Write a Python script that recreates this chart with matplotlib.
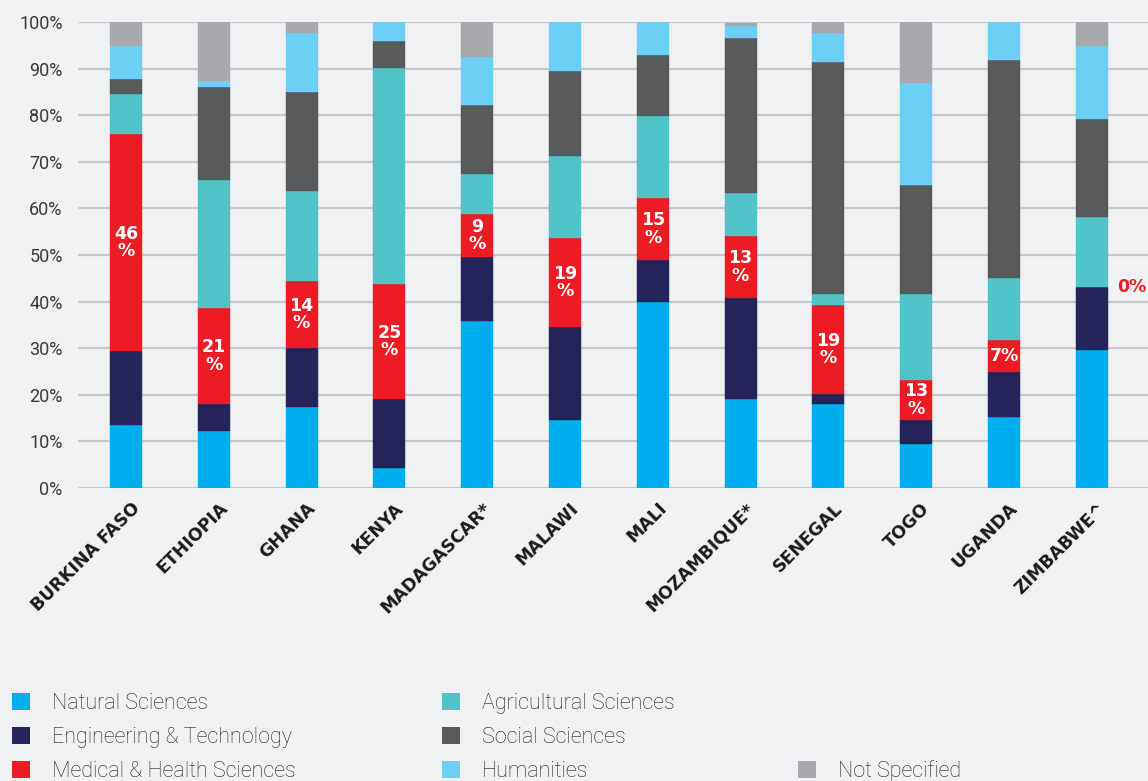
import numpy as np
import matplotlib
matplotlib.use("Agg")
import matplotlib.pyplot as plt
import matplotlib.transforms as mtransforms
from matplotlib.patches import Patch

# Data (share of researchers by field, %)
countries = ["BURKINA FASO", "ETHIOPIA", "GHANA", "KENYA", "MADAGASCAR*", "MALAWI",
             "MALI", "MOZAMBIQUE*", "SENEGAL", "TOGO", "UGANDA", "ZIMBABWE^"]
natural = [13.5, 12.2, 17.4, 4.3, 35.8, 14.6, 39.9, 19.1, 18.0, 9.4, 15.2, 29.6]
engineering = [15.9, 5.8, 12.6, 14.8, 13.8, 19.9, 9.0, 21.7, 2.2, 5.2, 9.7, 13.5]
medical = [46.6, 20.6, 14.4, 24.7, 9.2, 19.1, 13.3, 13.3, 19.1, 8.6, 6.9, 0.0]
agricultural = [8.5, 27.5, 19.3, 46.3, 8.6, 17.6, 17.6, 9.2, 2.3, 18.4, 13.3, 15.1]
social = [3.3, 20.0, 21.3, 5.8, 14.8, 18.3, 13.1, 33.2, 49.8, 23.4, 46.7, 21.0]
humanities = [7.0, 1.3, 12.6, 4.1, 10.3, 10.5, 7.1, 2.6, 6.2, 21.9, 8.2, 15.6]
not_specified = [5.2, 12.7, 2.4, 0.0, 7.5, 0.0, 0.0, 0.6, 2.4, 13.1, 0.0, 5.2]
medical_labels = ["46\n%", "21\n%", "14\n%", "25\n%", "9\n%", "19\n%", "15\n%",
                  "13\n%", "19\n%", "13\n%", "7%", "0%"]

series = [
    ("Natural Sciences", natural, "#00AEEF"),
    ("Engineering & Technology", engineering, "#24235A"),
    ("Medical & Health Sciences", medical, "#ED1C24"),
    ("Agricultural Sciences", agricultural, "#50C3C9"),
    ("Social Sciences", social, "#58595B"),
    ("Humanities", humanities, "#6CCFF6"),
    ("Not Specified", not_specified, "#A7A9AC"),
]

BG = "#F0F1F3"
W, H = 1148, 781

fig = plt.figure(figsize=(W / 100, H / 100), dpi=100, facecolor=BG)
ax = fig.add_axes([78 / W, 1 - 488 / H, 1 - 78 / W, (488 - 22) / H])
ax.set_facecolor(BG)

x = np.arange(len(countries))
bottom = np.zeros(len(countries))
for name, vals, color in series:
    vals = np.array(vals)
    ax.bar(x, vals, bottom=bottom, width=0.365, color=color, label=name,
           zorder=3, edgecolor=color, linewidth=0.3)
    if name.startswith("Medical"):
        med_bottom = bottom.copy()
    bottom += vals

# Labels on the medical segments
for i, lab in enumerate(medical_labels):
    if medical[i] > 0:
        ax.text(x[i], med_bottom[i] + medical[i] / 2, lab, ha="center", va="center",
                color="white", fontsize=12.5, fontweight="bold", linespacing=0.95,
                zorder=4)
    else:
        ax.text(x[i] + 0.46, med_bottom[i], lab, ha="center", va="center",
                color="#ED1C24", fontsize=12.5, fontweight="bold", zorder=4)

ax.set_xlim(-0.547, 11.64)
ax.set_ylim(0, 100)
ax.set_yticks(np.arange(0, 101, 10))
ax.set_yticklabels([f"{v}%" for v in range(0, 101, 10)])
ax.yaxis.grid(True, color="#C8C9CB", linewidth=1.6, zorder=0)
ax.set_axisbelow(True)
for s in ax.spines.values():
    s.set_visible(False)
ax.tick_params(axis="y", length=0, pad=11, labelsize=13, labelcolor="#3A3A3A")
ax.tick_params(axis="x", length=0, pad=4)
for t in ax.get_yticklabels():
    t.set_fontfamily("Roboto")

ax.set_xticks(x)
ax.set_xticklabels(countries, rotation=45, ha="right", va="center",
                   rotation_mode="anchor", fontsize=12.5, fontweight="bold",
                   color="#1A1A1A")
offset = mtransforms.ScaledTranslation(0.11, -0.12, fig.dpi_scale_trans)
for t in ax.get_xticklabels():
    t.set_transform(t.get_transform() + offset)

# Legend in three columns, placed by hand
handles = {name: Patch(facecolor=color, edgecolor="none") for name, _, color in series}
cols = [
    (12, 693, ["Natural Sciences", "Engineering & Technology", "Medical & Health Sciences"]),
    (442, 693, ["Agricultural Sciences", "Social Sciences", "Humanities"]),
    (798, 760, ["Not Specified"]),
]
for cx, cy, names in cols:
    leg = fig.legend([handles[n] for n in names], names, loc="upper left",
                     bbox_to_anchor=(cx / W, 1 - cy / H), frameon=False,
                     borderpad=0, borderaxespad=0, handlelength=0.85,
                     handleheight=0.85, handletextpad=1.0, labelspacing=0.6,
                     prop={"family": "Roboto", "weight": "light", "size": 15.5})
    for t in leg.get_texts():
        t.set_color("#222222")

fig.savefig("out.png", dpi=100, facecolor=BG)
